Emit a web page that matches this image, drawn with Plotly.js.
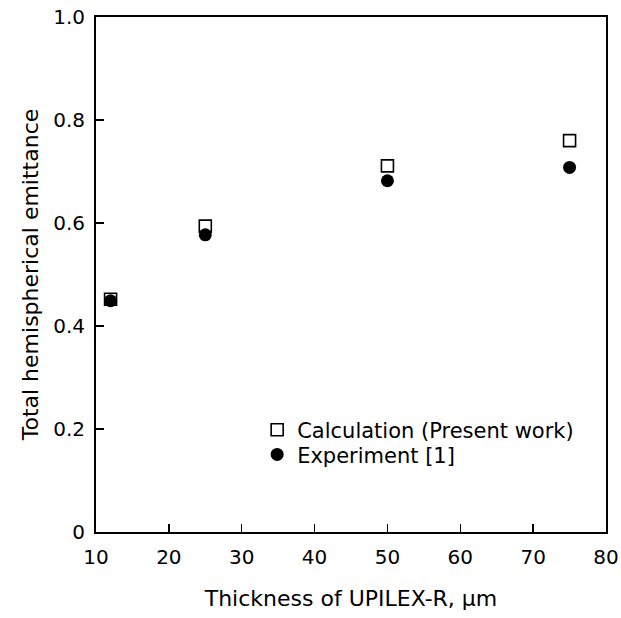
<!DOCTYPE html>
<html>
<head>
<meta charset="utf-8">
<script src="https://cdn.plot.ly/plotly-3.0.1.min.js"></script>
<style>html,body{margin:0;padding:0;background:#fff;}#chart{width:621px;height:618px;}</style>
</head>
<body>
<div id="chart"></div>
<script>
var thickness = [12, 25, 50, 75];
var calculation = [0.452, 0.594, 0.711, 0.760];
var experiment = [0.449, 0.577, 0.682, 0.708];
var yTickVals = [0, 0.2, 0.4, 0.6, 0.8, 1.0];
var yTickText = ["0", "0.2", "0.4", "0.6", "0.8", "1.0"];
var xTickVals = [10, 20, 30, 40, 50, 60, 70, 80];

var font = "DejaVu Sans, Liberation Sans, Arial, sans-serif";

var traces = [
  {
    x: thickness, y: calculation, mode: "markers", type: "scatter",
    name: "Calculation (Present work)", legend: "legend",
    marker: {symbol: "square-open", size: 12, color: "#000", line: {width: 1.6, color: "#000"}}
  },
  {
    x: thickness, y: experiment, mode: "markers", type: "scatter",
    name: "Experiment [1]", legend: "legend2",
    marker: {symbol: "circle", size: 13, color: "#000"}
  }
];

var legendCommon = {
  xanchor: "left", yanchor: "middle",
  bgcolor: "rgba(0,0,0,0)", borderwidth: 0,
  font: {family: font, size: 21, color: "#000"},
  itemwidth: 30
};

var layout = {
  width: 621, height: 618,
  margin: {l: 96, r: 15, t: 17, b: 86},
  paper_bgcolor: "#fff", plot_bgcolor: "#fff",
  font: {family: font, color: "#000", size: 20},
  showlegend: true,
  legend: Object.assign({x: 0.316, y: 0.198}, legendCommon),
  legend2: Object.assign({x: 0.316, y: 0.150}, legendCommon),
  xaxis: {
    range: [10, 80], tickvals: xTickVals,
    showgrid: false, zeroline: false,
    showline: true, linecolor: "#000", linewidth: 2, mirror: true,
    ticks: "inside", ticklen: 8, tickwidth: 1.5, tickcolor: "#000",
    ticklabelstandoff: 6,
    tickfont: {family: font, size: 20, color: "#000"},
    title: {text: "Thickness of UPILEX-R, \u03bcm", font: {family: font, size: 22, color: "#000"}, standoff: 23}
  },
  yaxis: {
    range: [0, 1], tickvals: yTickVals, ticktext: yTickText,
    showgrid: false, zeroline: false,
    showline: true, linecolor: "#000", linewidth: 2, mirror: true,
    ticks: "inside", ticklen: 8, tickwidth: 1.5, tickcolor: "#000",
    ticklabelstandoff: 5,
    tickfont: {family: font, size: 20, color: "#000"},
    title: {text: "Total hemispherical emittance", font: {family: font, size: 22, color: "#000"}, standoff: 8}
  }
};

Plotly.newPlot("chart", traces, layout, {displayModeBar: false, staticPlot: true});
</script>
</body>
</html>
